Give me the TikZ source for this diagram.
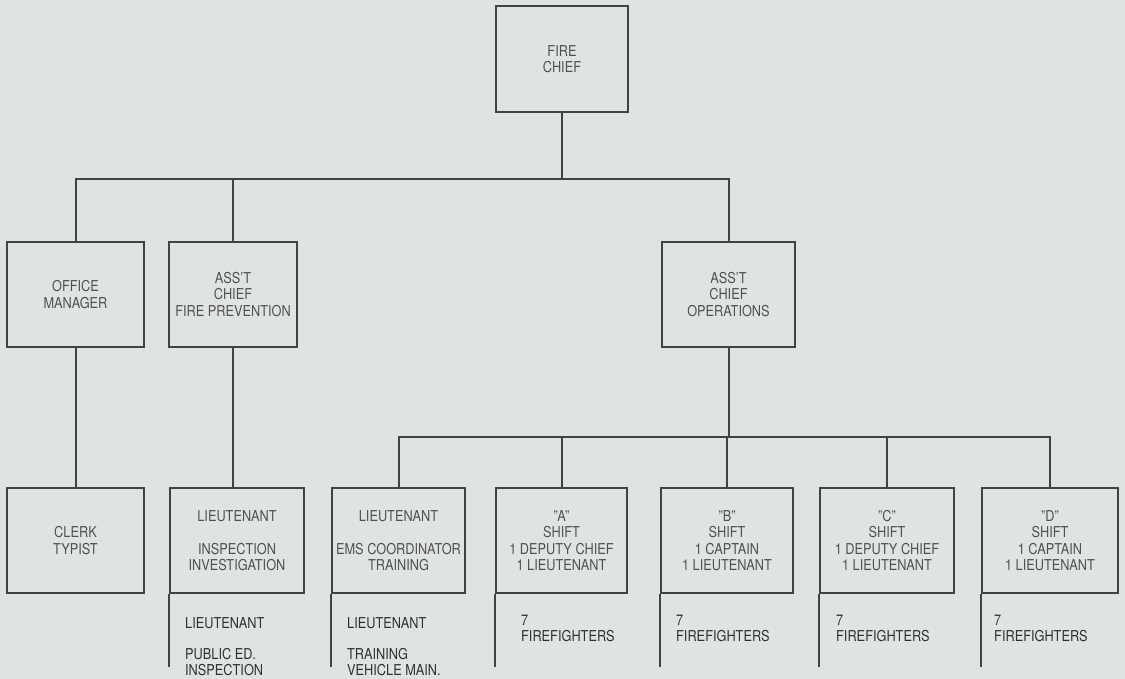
\documentclass[tikz,border=0pt]{standalone}
\usepackage{fontspec}
\setmainfont{TeX Gyre Heros}[FakeStretch=0.85]
\usepackage{tikz}
\usetikzlibrary{positioning}
\definecolor{paper}{RGB}{224,227,228}
\definecolor{chartline}{RGB}{66,66,66}
\definecolor{boxink}{RGB}{80,80,80}
\definecolor{staffink}{RGB}{48,48,48}

\begin{document}
\begin{tikzpicture}[x=1pt, y=-1pt,
  box/.style={draw=chartline, line width=2pt, align=center, text=boxink, minimum height=105pt, inner sep=2pt, font=\fontsize{15}{16.5}\selectfont},
  staff/.style={align=left, inner sep=0pt, text=staffink, font=\fontsize{15}{16}\selectfont},
  wire/.style={draw=chartline, line width=2pt}
]
\fill[paper] (0,0) rectangle (1125,679);
\useasboundingbox (0,0) rectangle (1125,679);

\node[box, minimum width=132pt, minimum height=106pt] (chief) at (562,59) {FIRE\\CHIEF};
\node[box, minimum width=137pt] (office) at (75.5,294.5) {OFFICE\\MANAGER};
\node[box, minimum width=128pt] (prev) at (233,294.5) {ASS'T\\CHIEF\\FIRE PREVENTION};
\node[box, minimum width=133pt] (ops) at (728.5,294.5) {ASS'T\\CHIEF\\OPERATIONS};

\node[box, minimum width=137pt] (clerk) at (75.5,540.5) {CLERK\\TYPIST};
\node[box, minimum width=134pt] (insp) at (237,540.5) {LIEUTENANT\\[16.5pt]INSPECTION\\INVESTIGATION};
\node[box, minimum width=133pt] (ems) at (398.5,540.5) {LIEUTENANT\\[16.5pt]EMS COORDINATOR\\TRAINING};
\foreach \n/\x/\w/\rank in {A/561.5/131/DEPUTY CHIEF, B/727/132/CAPTAIN, C/887/134/DEPUTY CHIEF, D/1050/136/CAPTAIN}
  \node[box, minimum width=\w pt] (shift\n) at (\x,540.5) {"\n"\\SHIFT\\1 \rank\\1 LIEUTENANT};

\coordinate (bus) at (0,179);
\coordinate (opsbus) at (0,437);
\coordinate (foot) at (0,667);

\draw[wire] (chief.south) -- (chief.south |- bus);
\draw[wire] (office.north) |- (ops.north |- bus) -- (ops.north);
\draw[wire] (prev.north) -- (prev.north |- bus);
\draw[wire] (office.south) -- (clerk.north);
\draw[wire] (prev.south) -- (prev.south |- insp.north);
\draw[wire] (ops.south) -- (ops.south |- opsbus);
\draw[wire] (ems.north) |- (shiftD.north |- opsbus) -- (shiftD.north);
\foreach \n in {A,B,C}
  \draw[wire] (shift\n.north) -- (shift\n.north |- opsbus);
\foreach \n in {insp,ems,shiftA,shiftB,shiftC,shiftD}
  \draw[wire] (\n.south west) -- (\n.south west |- foot);

\node[staff, below right=23pt and 16pt of insp.south west] (insplow) {LIEUTENANT\\[15pt]PUBLIC ED.\\INSPECTION};
\node[staff, below right=23pt and 16pt of ems.south west] (emslow) {LIEUTENANT\\[15pt]TRAINING\\VEHICLE MAIN.};
\foreach \n/\dx in {A/26, B/16, C/17, D/13}
  \node[staff, below right=21pt and \dx pt of shift\n.south west] (crew\n) {7\\FIREFIGHTERS};
\end{tikzpicture}
\end{document}
